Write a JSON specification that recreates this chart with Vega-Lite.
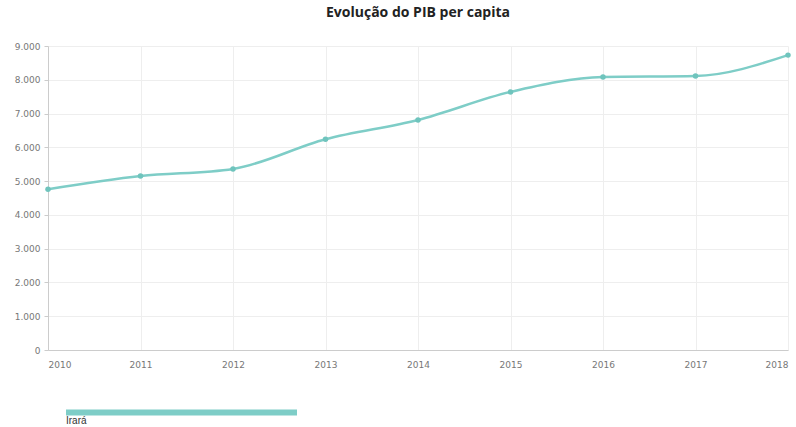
{
  "$schema": "https://vega.github.io/schema/vega-lite/v6.json",
  "autosize": {"type": "none"},
  "padding": {"left": 48, "top": 46, "right": 8, "bottom": 77},
  "width": 740,
  "height": 304,
  "config": {
    "locale": {"number": {"decimal": ",", "thousands": ".", "grouping": [3], "currency": ["R$", ""]}},
    "view": {"stroke": null},
    "font": "Open Sans"
  },
  "title": {
    "text": "Evolução do PIB per capita",
    "fontSize": 14,
    "fontWeight": "bold",
    "font": "Open Sans",
    "color": "#222",
    "anchor": "middle",
    "offset": 22
  },
  "data": {
    "values": [
      {"ano": 2010, "pib": 4760, "municipio": "Irará"},
      {"ano": 2011, "pib": 5150, "municipio": "Irará"},
      {"ano": 2012, "pib": 5360, "municipio": "Irará"},
      {"ano": 2013, "pib": 6240, "municipio": "Irará"},
      {"ano": 2014, "pib": 6810, "municipio": "Irará"},
      {"ano": 2015, "pib": 7640, "municipio": "Irará"},
      {"ano": 2016, "pib": 8080, "municipio": "Irará"},
      {"ano": 2017, "pib": 8110, "municipio": "Irará"},
      {"ano": 2018, "pib": 8730, "municipio": "Irará"}
    ]
  },
  "encoding": {
    "x": {
      "field": "ano", "type": "quantitative",
      "scale": {"domain": [2010, 2018], "nice": false, "zero": false},
      "axis": {
        "title": null, "format": "d", "values": [2010, 2011, 2012, 2013, 2014, 2015, 2016, 2017, 2018],
        "labelFontSize": 9, "labelColor": "#777", "labelFont": "DejaVu Sans",
        "gridColor": "#eeeeee", "domainColor": "#cccccc", "ticks": false, "labelPadding": 10
      }
    },
    "y": {
      "field": "pib", "type": "quantitative",
      "scale": {"domain": [0, 9000], "nice": false},
      "axis": {
        "title": null, "format": ",d", "values": [0, 1000, 2000, 3000, 4000, 5000, 6000, 7000, 8000, 9000],
        "labelFontSize": 9, "labelColor": "#777", "labelFont": "DejaVu Sans",
        "gridColor": "#eeeeee", "domainColor": "#cccccc", "tickColor": "#cccccc", "tickSize": 4, "labelPadding": 4
      }
    },
    "color": {
      "field": "municipio", "type": "nominal",
      "scale": {"range": ["#7ecdc7"]},
      "legend": {
        "title": null, "orient": "none", "legendX": 18, "legendY": 254,
        "symbolType": "M-1,-0.052H1V0H-1Z", "symbolSize": 53361, "symbolStrokeWidth": 0, "symbolFillColor": "#7ecdc7",
        "labelOffset": -231, "labelBaseline": "top", "labelFontSize": 10, "labelColor": "#333", "labelFont": "Liberation Sans"
      }
    }
  },
  "layer": [
    {"mark": {"type": "line", "interpolate": "monotone", "strokeWidth": 2.5}},
    {"mark": {"type": "point", "filled": true, "size": 30, "opacity": 1}, "encoding": {"color": {"value": "#6fc4bd"}}}
  ]
}
